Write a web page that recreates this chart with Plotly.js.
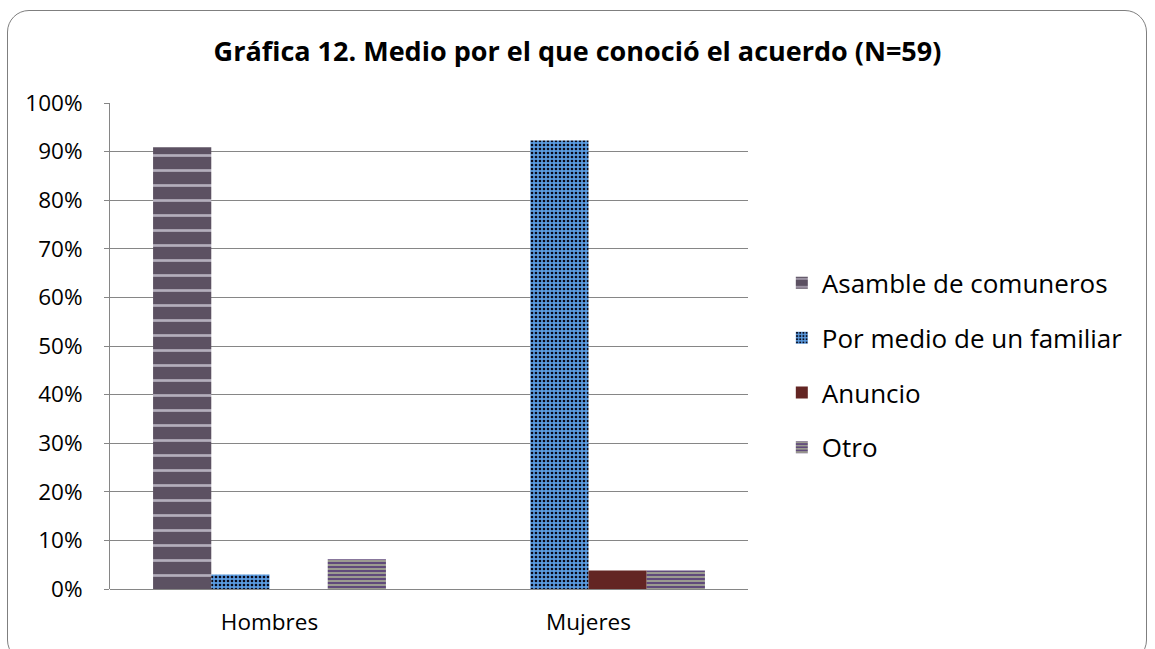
<!DOCTYPE html>
<html>
<head>
<meta charset="utf-8">
<script src="https://cdn.plot.ly/plotly-3.0.1.min.js"></script>
<style>
  html, body { margin: 0; padding: 0; background: #ffffff; }
  #wrap { position: relative; width: 1155px; height: 649px; overflow: hidden; }
  #frame { position: absolute; left: 7px; top: 10px; width: 1140px; height: 652px;
           border: 1.5px solid #7f7f7f; border-radius: 22px; box-sizing: border-box; pointer-events: none; z-index: 2; }
  #chart { position: absolute; left: 0; top: 0; width: 1155px; height: 649px; }
</style>
</head>
<body>
<div id="wrap">
  <div id="chart"></div>
  <div id="frame"></div>
</div>
<script>
const categories = ["Hombres", "Mujeres"];
const seriesNames = ["Asamble de comuneros", "Por medio de un familiar", "Anuncio", "Otro"];
const asamble = [0.909, 0];
const porMedio = [0.030, 0.923];
const anuncio = [0, 0.038];
const otro = [0.061, 0.038];
const tickVals = [0, 0.1, 0.2, 0.3, 0.4, 0.5, 0.6, 0.7, 0.8, 0.9, 1.0];

const FONT = "Open Sans, Liberation Sans, sans-serif";

const styles = [
  {color: "#5c5162", pattern: {shape: "-", fgcolor: "#d9d6e2", fgopacity: 0.7, bgcolor: "#5c5162", size: 15, solidity: 0.18}},
  {color: "#5a9be0", pattern: {shape: ".", fgcolor: "#0a0a1a", bgcolor: "#5a9be0", size: 4, solidity: 0.35}},
  {color: "#632523"},
  {color: "#604a7b", pattern: {shape: "-", fgcolor: "#c9dba0", fgopacity: 0.7, bgcolor: "#604a7b", size: 4, solidity: 0.4}}
];
const values = [asamble, porMedio, anuncio, otro];

const traces = values.map((v, i) => ({
  type: "bar",
  name: seriesNames[i],
  x: categories,
  y: v,
  legendgroup: "g" + i,
  marker: Object.assign({line: {width: 0}}, styles[i].pattern ? {color: styles[i].color, pattern: styles[i].pattern} : {color: styles[i].color}),
  hoverinfo: "skip"
}));

const layout = {
  width: 1155,
  height: 649,
  paper_bgcolor: "rgba(0,0,0,0)",
  plot_bgcolor: "#ffffff",
  margin: {l: 110, r: 407, t: 103, b: 60},
  barmode: "group",
  bargap: 0.27,
  bargroupgap: 0,
  showlegend: true,
  title: {
    text: "<b>Gráfica 12. Medio por el que conoció el acuerdo (N=59)</b>",
    font: {family: FONT, size: 27, color: "#000000"},
    x: 0.5, xref: "container", xanchor: "center",
    y: 1 - 52 / 649, yref: "container", yanchor: "middle"
  },
  xaxis: {
    type: "category",
    showgrid: false,
    showline: false,
    ticks: "",
    tickfont: {family: FONT, size: 22.5, color: "#000000"},
    ticklabelstandoff: 17,
    zeroline: false,
    fixedrange: true
  },
  yaxis: {
    range: [0, 1],
    tickvals: tickVals,
    tickformat: ".0%",
    showgrid: true,
    gridcolor: "#868686",
    gridwidth: 1,
    showline: true,
    linecolor: "#868686",
    linewidth: 1,
    ticks: "outside",
    ticklen: 5,
    tickcolor: "#868686",
    tickfont: {family: FONT, size: 22.5, color: "#000000"},
    ticklabelstandoff: 17,
    zeroline: true,
    zerolinecolor: "#868686",
    zerolinewidth: 1,
    fixedrange: true
  },
  legend: {
    x: 1.053, xanchor: "left",
    y: 0.46, yanchor: "middle",
    traceorder: "grouped",
    tracegroupgap: 18,
    font: {family: FONT, size: 26, color: "#000000"},
    itemwidth: 30,
    bgcolor: "rgba(0,0,0,0)"
  }
};

Plotly.newPlot("chart", traces, layout, {staticPlot: true, displayModeBar: false});
</script>
</body>
</html>
